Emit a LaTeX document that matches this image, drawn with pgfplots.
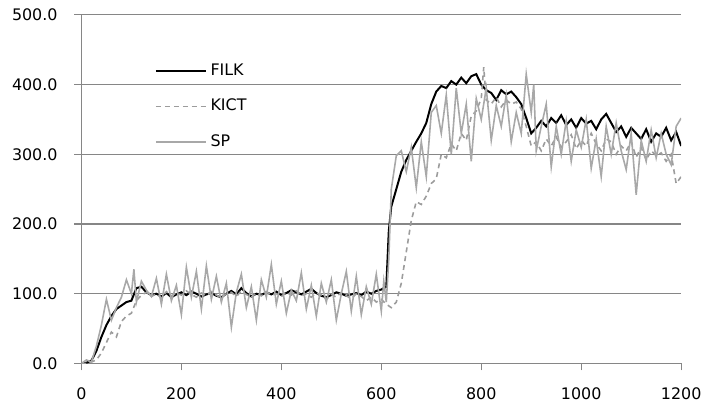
\documentclass[border=0pt]{standalone}
\usepackage{fontspec}
\setmainfont{DejaVu Sans}
\usepackage{pgfplots}
\pgfplotsset{compat=1.18}

\definecolor{axgray}{HTML}{868686}
\definecolor{spgray}{HTML}{A8A8A8}
\definecolor{kictgray}{HTML}{9C9C9C}

\begin{document}
\begin{tikzpicture}
\begin{axis}[
    scale only axis,
    width=302pt, height=175.5pt,
    xmin=0, xmax=1200, ymin=0, ymax=500,
    xtick={0,200,...,1200},
    ytick={0,100,...,500},
    axis lines*=left,
    axis line style={axgray, line width=0.6pt},
    tick style={axgray, line width=0.6pt},
    tick align=outside,
    major tick length=3.5pt,
    ymajorgrids,
    grid style={axgray, line width=0.6pt},
    /pgf/number format/assume math mode=true,
    /pgf/number format/1000 sep={},
    yticklabel={\pgfmathprintnumber[fixed,fixed zerofill,precision=1]{\tick}},
    xticklabel style={font=\fontsize{8}{9}\selectfont, yshift=-5pt},
    yticklabel style={font=\fontsize{8}{9}\selectfont, xshift=-5pt},
    legend style={draw=none, fill=none, at={(0.112,0.884)}, anchor=north west,
        font=\fontsize{8}{9}\selectfont, row sep=6.5pt},
    legend cell align=left,
    legend image code/.code={\draw[#1] (0pt,0pt) -- (25pt,0pt);},
]
\coordinate (bl) at (rel axis cs:0,0);
\coordinate (tr) at (rel axis cs:1,1);
% FILK
\addplot[black, line width=1pt] coordinates {
(0,0)(10,1)(20,4)(30,18)(40,38)(50,55)(60,68)(70,78)(80,83)(90,88)(100,90)
(110,108)(120,110)(130,102)(140,98)(150,100)(160,96)(170,101)(180,95)(190,99)
(200,102)(210,98)(220,103)(230,100)(240,96)(250,99)(260,101)(270,97)(280,95)
(290,100)(300,104)(310,99)(320,108)(330,101)(340,96)(350,100)(360,98)(370,102)
(380,99)(390,103)(400,98)(410,101)(420,105)(430,102)(440,99)(450,103)(460,107)
(470,101)(480,97)(490,95)(500,98)(510,102)(520,100)(530,97)(540,99)(550,101)
(560,98)(570,103)(580,100)(590,104)(600,106)(610,110)(615,190)(620,225)
(630,250)(640,275)(650,292)(660,305)(670,318)(680,330)(690,345)(700,372)
(710,390)(720,398)(730,395)(740,405)(750,400)(760,410)(770,402)(780,412)
(790,415)(800,400)(810,392)(820,388)(830,378)(840,392)(850,386)(860,390)
(870,382)(880,372)(890,352)(900,330)(910,338)(920,348)(930,340)(940,352)
(950,345)(960,356)(970,342)(980,350)(990,338)(1000,352)(1010,344)(1020,348)
(1030,336)(1040,350)(1050,358)(1060,345)(1070,332)(1080,340)(1090,325)
(1100,338)(1110,330)(1120,322)(1130,336)(1140,318)(1150,330)(1160,325)
(1170,338)(1180,320)(1190,332)(1200,312)
};
\addlegendentry{FILK}
% KICT
\addplot[kictgray, line width=0.8pt, dash pattern=on 2.5pt off 2pt] coordinates {
(0,0)(10,0)(20,2)(30,5)(40,15)(50,30)(60,45)(70,38)(80,60)(90,68)(100,72)
(110,90)(120,98)(130,102)(140,96)(150,100)(160,94)(170,103)(180,97)(190,101)
(200,98)(210,104)(220,99)(230,95)(240,101)(250,97)(260,103)(270,98)(280,94)
(290,100)(300,102)(310,96)(320,104)(330,99)(340,95)(350,101)(360,97)(370,103)
(380,98)(390,100)(400,96)(410,102)(420,98)(430,104)(440,97)(450,100)(460,95)
(470,101)(480,98)(490,92)(500,99)(510,95)(520,102)(530,97)(540,93)(550,100)
(560,96)(570,90)(580,95)(590,88)(600,92)(610,85)(620,80)(630,88)(640,115)
(650,160)(660,205)(670,232)(680,228)(690,240)(700,258)(710,265)(720,300)
(730,295)(740,315)(750,305)(760,330)(770,320)(780,355)(790,362)(800,380)
(805,425)(810,378)(820,372)(830,382)(840,368)(850,378)(860,372)(870,375)
(880,365)(890,340)(900,312)(910,318)(920,305)(930,322)(940,312)(950,325)
(960,310)(970,318)(980,328)(990,308)(1000,320)(1010,312)(1020,330)(1030,315)
(1040,305)(1050,322)(1060,318)(1070,300)(1080,312)(1090,305)(1100,318)
(1110,296)(1120,310)(1130,292)(1140,305)(1150,298)(1160,302)(1170,290)
(1180,300)(1190,258)(1200,268)
};
\addlegendentry{KICT}
% SP
\addplot[spgray, line width=0.8pt] coordinates {
(0,0)(10,5)(20,2)(30,25)(40,55)(50,92)(60,62)(70,80)(80,95)(90,120)(100,100)
(105,135)(110,88)(120,118)(130,105)(140,96)(150,122)(160,85)(170,128)(180,90)
(190,112)(200,70)(210,138)(220,95)(230,132)(240,78)(250,140)(260,92)(270,125)
(280,88)(290,115)(300,52)(310,102)(320,128)(330,80)(340,110)(350,62)(360,120)
(370,95)(380,142)(390,85)(400,118)(410,72)(420,105)(430,90)(440,130)(450,78)
(460,112)(470,68)(480,115)(490,88)(500,120)(510,62)(520,100)(530,132)(540,75)
(550,125)(560,70)(570,110)(580,85)(590,128)(600,75)(605,118)(610,88)(615,150)
(620,250)(630,298)(640,305)(650,275)(660,310)(670,252)(680,318)(690,268)
(700,360)(710,370)(720,330)(730,385)(740,300)(750,395)(760,330)(770,372)
(780,290)(790,380)(800,350)(810,395)(820,320)(830,370)(840,340)(850,385)
(860,318)(870,360)(880,330)(890,415)(900,360)(905,400)(910,305)(920,340)
(930,372)(940,282)(950,340)(960,300)(970,348)(980,290)(990,335)(1000,310)
(1010,350)(1020,280)(1030,322)(1040,268)(1050,340)(1060,300)(1070,345)
(1080,305)(1090,278)(1100,330)(1110,242)(1120,320)(1130,290)(1140,335)
(1150,295)(1160,330)(1170,300)(1180,285)(1190,340)(1200,352)
};
\addlegendentry{SP}
\end{axis}
\path ([shift={(-41pt,-18pt)}]bl) rectangle ([shift={(11.5pt,7.5pt)}]tr);
\end{tikzpicture}
\end{document}
